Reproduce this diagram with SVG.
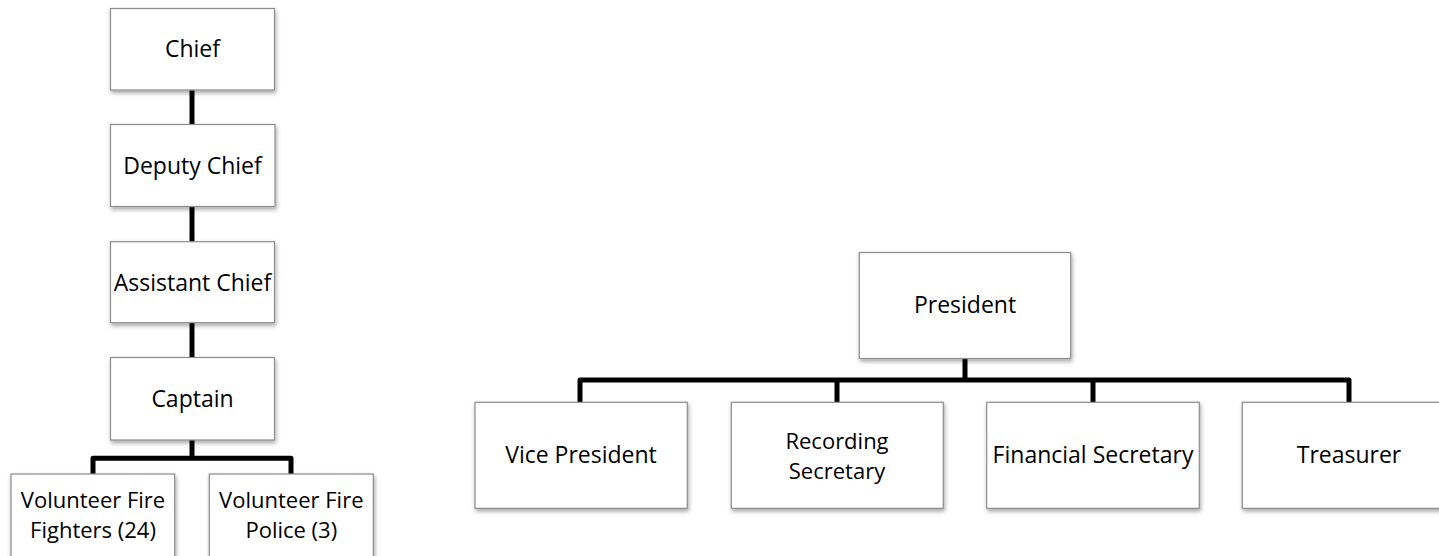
<svg xmlns="http://www.w3.org/2000/svg" width="1439" height="556" viewBox="0 0 1439 556">
<defs>
<filter id="sh" x="-10%" y="-10%" width="130%" height="140%">
<feDropShadow dx="1" dy="2.5" stdDeviation="2" flood-color="#000" flood-opacity="0.35"/>
</filter>
<style>
.box{fill:#fff;stroke:#8c8c8c;stroke-width:1.2;filter:url(#sh)}
.t{font-family:"Open Sans","Liberation Sans",sans-serif;font-size:23px;fill:#000;text-anchor:middle}
.t2{font-size:22px}
.c{fill:none;stroke:#000;stroke-width:5;stroke-linejoin:round}
</style>
</defs>
<rect width="1439" height="556" fill="#fff"/>
<g id="connectors">
<path class="c" d="M192 90V124.5"/>
<path class="c" d="M192 206.5V241.7"/>
<path class="c" d="M192 323V357.5"/>
<path class="c" d="M192 440V458.3"/>
<path class="c" d="M93 474V458.3H291V474"/>
<path class="c" d="M965 358V380"/>
<path class="c" d="M580 402.3V380H1349V402.3"/>
<path class="c" d="M837 380V402.3"/>
<path class="c" d="M1093 380V402.3"/>
</g>
<g id="chief"><rect class="box" x="110.5" y="8.5" width="164" height="81.5"/><text class="t" x="192.5" y="57.3">Chief</text></g>
<g id="deputy-chief"><rect class="box" x="110.5" y="124.5" width="164.5" height="82"/><text class="t" x="192.5" y="173.7">Deputy Chief</text></g>
<g id="assistant-chief"><rect class="box" x="110.5" y="241.7" width="164" height="81"/><text class="t" x="192.5" y="290.5">Assistant Chief</text></g>
<g id="captain"><rect class="box" x="110.5" y="357.5" width="164" height="82.5"/><text class="t" x="192.5" y="406.8">Captain</text></g>
<g id="volunteer-fire-fighters"><rect class="box" x="11" y="474" width="163.7" height="84"/><text class="t t2" x="93" y="508">Volunteer Fire</text><text class="t t2" x="93" y="538">Fighters (24)</text></g>
<g id="volunteer-fire-police"><rect class="box" x="209.3" y="474" width="164" height="84"/><text class="t t2" x="291.3" y="508">Volunteer Fire</text><text class="t t2" x="291.3" y="538">Police (3)</text></g>
<g id="president"><rect class="box" x="859.3" y="252.5" width="211.4" height="106"/><text class="t" x="965" y="312.5">President</text></g>
<g id="vice-president"><rect class="box" x="475" y="402.3" width="212.3" height="106"/><text class="t" x="581" y="463.3">Vice President</text></g>
<g id="recording-secretary"><rect class="box" x="731.3" y="402.3" width="212" height="106"/><text class="t t2" x="837" y="449">Recording</text><text class="t t2" x="837" y="479">Secretary</text></g>
<g id="financial-secretary"><rect class="box" x="986.7" y="402.3" width="212.6" height="106"/><text class="t" x="1093" y="463.3">Financial Secretary</text></g>
<g id="treasurer"><rect class="box" x="1242.3" y="402.3" width="213" height="106"/><text class="t" x="1349" y="463.3">Treasurer</text></g>
</svg>
